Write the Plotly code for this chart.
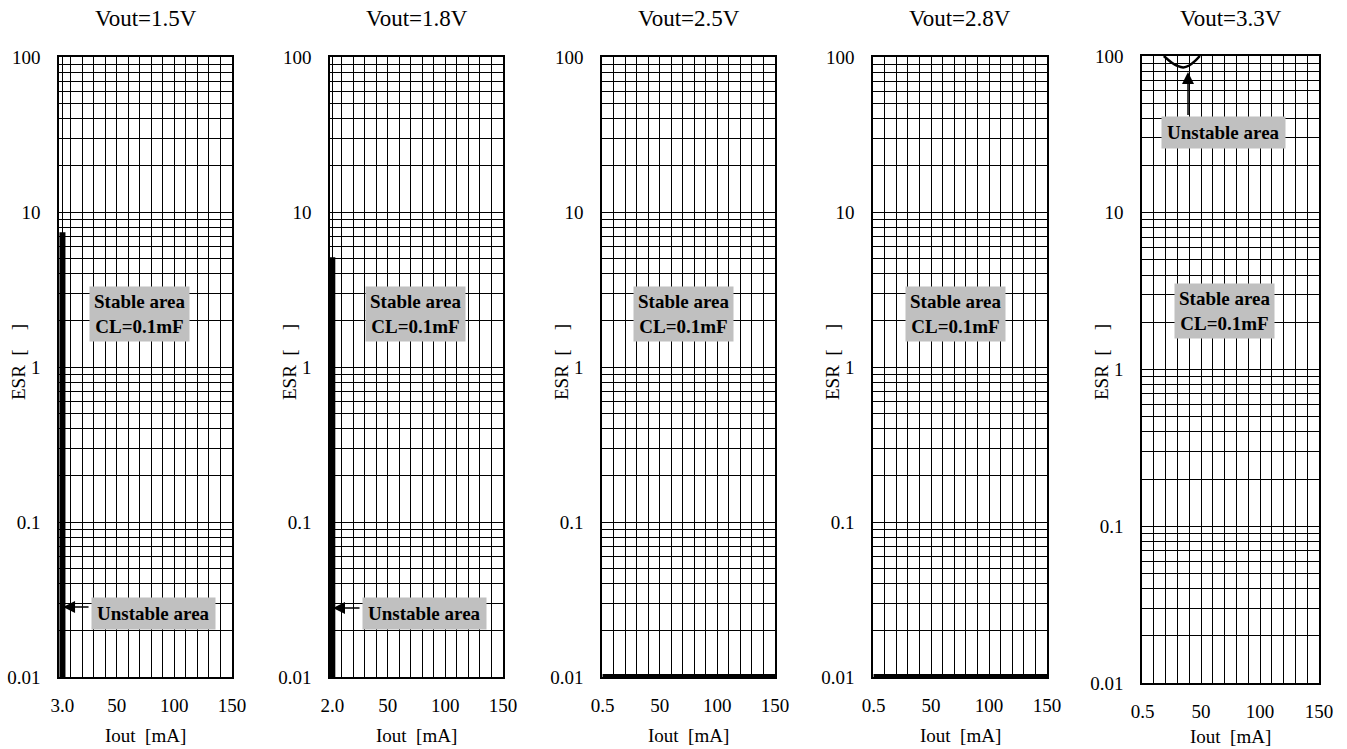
import math
import plotly.graph_objects as go

W, H = 1347, 749
FONT = "Liberation Serif"

# ---- data ----
titles = ["Vout=1.5V", "Vout=1.8V", "Vout=2.5V", "Vout=2.8V", "Vout=3.3V"]
x_start = [3.0, 2.0, 0.5, 0.5, 0.5]
x_start_labels = ["3.0", "2.0", "0.5", "0.5", "0.5"]
x_tick_vals = [50, 100, 150]
x_tick_labels = ["50", "100", "150"]
y_tick_vals = [0.01, 0.1, 1, 10, 100]
y_tick_labels = ["0.01", "0.1", "1", "10", "100"]

p1_x = [3.0, 3.0]
p1_y = [0.01, 7.4]
p2_x = [2.0, 2.0]
p2_y = [0.01, 5.1]
p3_x = [0.5, 150]
p3_y = [0.01, 0.01]
p4_x = [0.5, 150]
p4_y = [0.01, 0.01]
p5_x = [18.5, 25, 30, 35, 40, 45, 49]
p5_y = [100, 91, 86.5, 84.5, 87, 93, 100]
series = [(p1_x, p1_y), (p2_x, p2_y), (p3_x, p3_y), (p4_x, p4_y), (p5_x, p5_y)]
series_width = [6, 6, 6, 6, 2.5]

# ---- layout (pixel boxes of each panel) ----
px_left = [59, 330, 602, 873, 1142]
px_right = [232, 503, 775, 1047, 1319]
px_top = [57, 57, 57, 57, 56]
px_bottom = [677, 677, 677, 677, 683]
px_xtitle = [735, 735, 735, 735, 736]

fig = go.Figure()
layout = dict(
    template="none",
    width=W, height=H,
    margin=dict(l=0, r=0, t=0, b=0, pad=0, autoexpand=False),
    paper_bgcolor="white", plot_bgcolor="white",
    showlegend=False,
    font=dict(family=FONT, size=19, color="black"),
)
annotations = []

for i in range(5):
    n = "" if i == 0 else str(i + 1)
    xa, ya = "xaxis" + n, "yaxis" + n
    xr, yr = "x" + n, "y" + n
    fig.add_trace(go.Scatter(
        x=series[i][0], y=series[i][1], mode="lines",
        line=dict(color="black", width=series_width[i], shape="spline" if i == 4 else "linear"),
        xaxis=xr, yaxis=yr, hoverinfo="skip"))
    xd = [px_left[i] / W, px_right[i] / W]
    yd = [1 - px_bottom[i] / H, 1 - px_top[i] / H]
    layout[xa] = dict(
        domain=xd, anchor=yr, range=[0, 150], automargin=False,
        tickmode="array",
        tickvals=[x_start[i]] + x_tick_vals,
        ticktext=[x_start_labels[i]] + x_tick_labels,
        showgrid=True, gridcolor="black", gridwidth=1,
        minor=dict(tick0=0, dtick=10, showgrid=True, gridcolor="black", gridwidth=1),
        showline=True, linecolor="black", linewidth=1.5, mirror=True,
        ticks="", ticklabelstandoff=10, zeroline=False,
        tickfont=dict(family=FONT, size=19, color="black"),
        fixedrange=True,
    )
    layout[ya] = dict(
        domain=yd, anchor=xr, type="log", range=[-2, 2], automargin=False,
        tickmode="array", tickvals=y_tick_vals, ticktext=y_tick_labels,
        showgrid=True, gridcolor="black", gridwidth=1,
        minor=dict(dtick="D1", showgrid=True, gridcolor="black", gridwidth=1),
        showline=True, linecolor="black", linewidth=1.5, mirror=True,
        ticks="", ticklabelstandoff=13, zeroline=False,
        tickfont=dict(family=FONT, size=19, color="black"),
        fixedrange=True,
    )
    cx = (px_left[i] + px_right[i]) / 2 / W
    # panel title
    annotations.append(dict(text=titles[i], xref="paper", yref="paper", x=cx, y=1 - 19 / H,
                            xanchor="center", yanchor="middle", showarrow=False,
                            font=dict(family=FONT, size=23, color="black")))
    # x-axis title
    annotations.append(dict(text="Iout\u00a0 [mA]", xref="paper", yref="paper", x=cx,
                            y=1 - px_xtitle[i] / H,
                            xanchor="center", yanchor="middle", showarrow=False,
                            font=dict(family=FONT, size=19, color="black")))
    # y-axis title
    annotations.append(dict(text="ESR\u00a0 [\u00a0\u00a0\u00a0\u00a0]", xref="paper", yref="paper",
                            x=(px_left[i] - 41) / W, y=1 - 362 / H, textangle=-90,
                            xanchor="center", yanchor="middle", showarrow=False,
                            font=dict(family=FONT, size=19, color="black")))

box = dict(bgcolor="#c0c0c0", borderpad=4, showarrow=False,
           font=dict(family=FONT, size=19, color="black"))
stable_pos = [(70, 2.2), (74, 2.2), (71, 2.2), (71, 2.2), (70, 2.36)]
for i, (sx, sy) in enumerate(stable_pos):
    n = "" if i == 0 else str(i + 1)
    annotations.append(dict(box, text="<b>Stable area</b><br><b>CL=0.1mF</b>",
                            xref="x" + n, yref="y" + n, x=sx, y=math.log10(sy)))

unstable_pos = [(0, 82, 0.0255), (1, 81.5, 0.0255), (4, 69, 32.5)]
for i, ux, uy in unstable_pos:
    n = "" if i == 0 else str(i + 1)
    annotations.append(dict(box, text="<b>Unstable area</b>", borderpad=5,
                            xref="x" + n, yref="y" + n, x=ux, y=math.log10(uy)))

# arrows (head at x,y; tail offset in px)
arrows = [(0, 3.5, 0.0283, 27, 0), (1, 2.6, 0.0279, 28, 0), (4, 39, 79, 0, 45)]
for i, hx, hy, axp, ayp in arrows:
    n = "" if i == 0 else str(i + 1)
    annotations.append(dict(text=" ", xref="x" + n, yref="y" + n, x=hx, y=math.log10(hy),
                            ax=axp, ay=ayp, showarrow=True, arrowhead=2, arrowsize=1.6,
                            arrowwidth=1.5, arrowcolor="black", standoff=0, startstandoff=0,
                            font=dict(size=1)))

layout["annotations"] = annotations
fig.update_layout(**layout)
fig.write_html("out.html", config={"displayModeBar": False},
               post_script="document.body.style.margin='0';document.body.style.overflow='hidden';")
